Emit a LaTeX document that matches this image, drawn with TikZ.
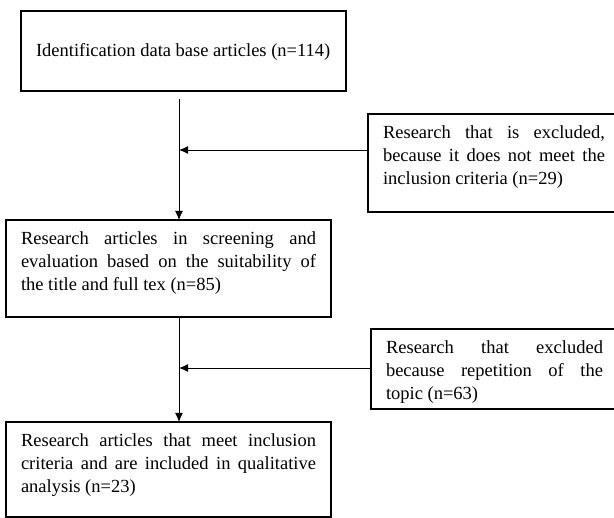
\documentclass[tikz,border=0pt]{standalone}
\usepackage{fontspec}
\setmainfont{Liberation Serif}
\usetikzlibrary{arrows.meta}
\tolerance=10000
\hbadness=10000
\hyphenpenalty=10000

\begin{document}
\begin{tikzpicture}[x=1pt, y=-1pt, >={Latex[length=9pt,width=8pt]},
  stage/.style={draw, line width=1.4pt, anchor=north west, outer sep=0pt,
    inner xsep=15pt, inner ysep=10pt, text width=295pt, align=justify,
    text height=15pt, font=\fontsize{18.5}{23}\selectfont},
  flow/.style={->, line width=0.9pt}]
  \useasboundingbox (0,0) rectangle (614,518);

  % main column
  \node[stage, minimum height=80pt, text depth=4.5pt] (ident) at (21,11) {Identification data base articles (n=114)};
  \node[stage, text depth=62pt] (scr) at (6,220) {Research articles in screening and\linebreak evaluation based on the suitability of\linebreak the title and full tex (n=85)};
  \node[stage, text depth=60pt] (inc) at (6,422) {Research articles that meet inclusion\linebreak criteria and are included in qualitative\linebreak analysis (n=23)};

  % excluded
  \node[stage, text width=222pt, text depth=63pt] (ex1) at (368,114) {Research that is excluded,\linebreak because it does not meet the\linebreak inclusion criteria (n=29)};
  \node[stage, text width=217pt, text depth=45pt] (ex2) at (371,329) {Research that excluded\linebreak because repetition of the\linebreak topic (n=63)};

  \coordinate (top) at (179,99);
  \coordinate (j1) at (179,150);
  \coordinate (j2) at (179,368);

  \draw[flow] (top) -- (top |- scr.north);
  \draw[flow] (ex1.west |- j1) -- (j1);
  \draw[flow] (j2 |- scr.south) -- (j2 |- inc.north);
  \draw[flow] (ex2.west |- j2) -- (j2);
\end{tikzpicture}
\end{document}
